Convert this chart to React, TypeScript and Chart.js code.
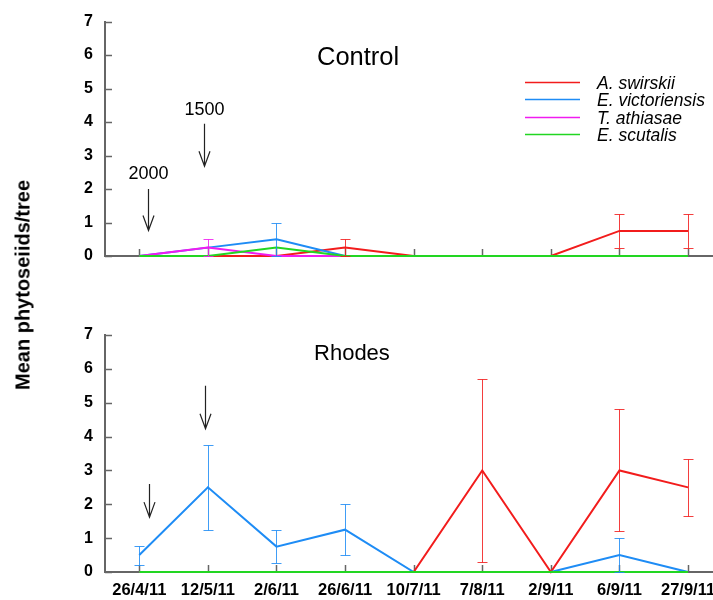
import React, { useEffect, useRef } from 'react';
import { Chart, registerables } from 'chart.js';

Chart.register(...registerables);

// ---------- data ----------
const dates = ['26/4/11', '12/5/11', '2/6/11', '26/6/11', '10/7/11', '7/8/11', '2/9/11', '6/9/11', '27/9/11'];
const yTickValues = [0, 1, 2, 3, 4, 5, 6, 7];
const seriesNames = ['A. swirskii', 'E. victoriensis', 'T. athiasae', 'E. scutalis'];

// Control panel
const controlSwirskii = [0, 0, 0, 0.25, 0, 0, 0, 0.75, 0.75];
const controlVictoriensis = [0, 0.25, 0.5, 0, 0, 0, 0, 0, 0];
const controlAthiasae = [0, 0.25, 0, 0, 0, 0, 0, 0, 0];
const controlScutalis = [0, 0, 0.25, 0, 0, 0, 0, 0, 0];
const controlSwirskiiErr = [null, null, null, 0.25, null, null, null, 0.5, 0.5];
const controlVictoriensisErr = [null, null, 0.5, null, null, null, null, null, null];
const controlAthiasaeErr = [null, 0.25, null, null, null, null, null, null, null];
const controlScutalisErr = [null, null, null, null, null, null, null, null, null];

// Rhodes panel
const rhodesSwirskii = [0, 0, 0, 0, 0, 3, 0, 3, 2.5];
const rhodesVictoriensis = [0.5, 2.5, 0.75, 1.25, 0, 0, 0, 0.5, 0];
const rhodesAthiasae = [0, 0, 0, 0, 0, 0, 0, 0, 0];
const rhodesScutalis = [0, 0, 0, 0, 0, 0, 0, 0, 0];
const rhodesSwirskiiErr = [null, null, null, null, null, 2.7, null, 1.8, 0.85];
const rhodesVictoriensisErr = [0.28, 1.25, 0.48, 0.75, null, null, null, 0.5, null];
const rhodesAthiasaeErr = [null, null, null, null, null, null, null, null, null];
const rhodesScutalisErr = [null, null, null, null, null, null, null, null, null];

// release annotations (data coordinates)
const controlReleases = [
  { label: '2000', x: 0.13, yFrom: 2.0, yTo: 0.76, labelY: 2.45 },
  { label: '1500', x: 0.95, yFrom: 3.95, yTo: 2.68, labelY: 4.37 },
];
const rhodesReleases = [
  { label: '', x: 0.145, yFrom: 2.6, yTo: 1.62, labelY: 0 },
  { label: '', x: 0.96, yFrom: 5.5, yTo: 4.23, labelY: 0 },
];

// ---------- styles ----------
const COLORS = ['#f21c1c', '#1e8cf5', '#f01cf0', '#22d622'];
const DRAW_ORDER = [3, 2, 1, 0];
const AXIS_COLOR = '#666666';
const FONT = '"Liberation Sans", Arial, Helvetica, sans-serif';
const X_MAX = 8.364;

Chart.defaults.font.family = FONT;
Chart.defaults.color = '#000';

type PanelCfg = {
  values: (number | null)[][];
  errors: (number | null)[][];
  title: string;
  titleSize: number;
  titleX: number;
  titleY: number;
  showXLabels: boolean;
  showLegend: boolean;
  releases: { label: string; x: number; yFrom: number; yTo: number; labelY: number }[];
  padTop: number;
  padBottom: number;
  xAxisHeight: number;
};

function makePanelPlugin(cfg: PanelCfg) {
  return {
    id: 'panelExtras',
    beforeDatasetsDraw(chart: any) {
      const { ctx, chartArea } = chart;
      const x = chart.scales.x;
      const y = chart.scales.y;
      ctx.save();
      ctx.strokeStyle = AXIS_COLOR;
      ctx.lineWidth = 1.5;
      yTickValues.forEach((v) => {
        const py = Math.round(y.getPixelForValue(v)) + 0.5;
        ctx.beginPath();
        ctx.moveTo(chartArea.left, py);
        ctx.lineTo(chartArea.left + 7, py);
        ctx.stroke();
      });
      dates.forEach((_, i) => {
        const px = Math.round(x.getPixelForValue(i)) + 0.5;
        ctx.beginPath();
        ctx.moveTo(px, chartArea.bottom);
        ctx.lineTo(px, chartArea.bottom - 7);
        ctx.stroke();
      });
      ctx.restore();
    },
    afterDatasetsDraw(chart: any) {
      const { ctx, chartArea } = chart;
      const x = chart.scales.x;
      const y = chart.scales.y;
      ctx.save();
      // error bars
      cfg.errors.forEach((errArr, si) => {
        errArr.forEach((e, j) => {
          const v = cfg.values[si][j];
          if (e == null || v == null) return;
          const px = Math.round(x.getPixelForValue(j)) + 0.5;
          const top = Math.round(y.getPixelForValue(v + e)) + 0.5;
          const bot = Math.round(y.getPixelForValue(Math.max(0, v - e))) + 0.5;
          ctx.strokeStyle = COLORS[si];
          ctx.globalAlpha = 0.85;
          ctx.lineWidth = 1;
          ctx.beginPath();
          ctx.moveTo(px, top);
          ctx.lineTo(px, bot);
          ctx.moveTo(px - 5, top);
          ctx.lineTo(px + 5, top);
          ctx.moveTo(px - 5, bot);
          ctx.lineTo(px + 5, bot);
          ctx.stroke();
        });
      });
      ctx.globalAlpha = 1;
      // panel title
      ctx.fillStyle = '#000';
      ctx.font = `${cfg.titleSize}px ${FONT}`;
      ctx.textAlign = 'center';
      ctx.textBaseline = 'middle';
      ctx.fillText(cfg.title, x.getPixelForValue(cfg.titleX), y.getPixelForValue(cfg.titleY));
      // release arrows
      cfg.releases.forEach((r) => {
        const px = Math.round(x.getPixelForValue(r.x)) + 0.5;
        const y0 = y.getPixelForValue(r.yFrom);
        const y1 = y.getPixelForValue(r.yTo);
        ctx.strokeStyle = '#222';
        ctx.lineWidth = 1.2;
        ctx.beginPath();
        ctx.moveTo(px, y0);
        ctx.lineTo(px, y1);
        ctx.moveTo(px - 5.5, y1 - 15);
        ctx.lineTo(px, y1);
        ctx.lineTo(px + 5.5, y1 - 15);
        ctx.stroke();
        if (r.label) {
          ctx.fillStyle = '#000';
          ctx.font = `18px ${FONT}`;
          ctx.textAlign = 'center';
          ctx.textBaseline = 'middle';
          ctx.fillText(r.label, px, y.getPixelForValue(r.labelY));
        }
      });
      // legend
      if (cfg.showLegend) {
        const lx0 = chartArea.left + 420;
        const ly0 = chartArea.top + 60;
        seriesNames.forEach((name, i) => {
          const ly = Math.round(ly0 + i * 17.5) + 0.5;
          ctx.strokeStyle = COLORS[i];
          ctx.lineWidth = 1.5;
          ctx.beginPath();
          ctx.moveTo(lx0, ly);
          ctx.lineTo(lx0 + 55, ly);
          ctx.stroke();
          ctx.fillStyle = '#000';
          ctx.font = `italic 17.5px ${FONT}`;
          ctx.textAlign = 'left';
          ctx.textBaseline = 'middle';
          ctx.fillText(name, lx0 + 72, ly + 1.5);
        });
      }
      ctx.restore();
    },
  };
}

function buildChart(canvas: HTMLCanvasElement, cfg: PanelCfg) {
  return new Chart(canvas, {
    type: 'line',
    data: {
      datasets: seriesNames.map((name, i) => ({
        label: name,
        data: cfg.values[i].map((v, j) => ({ x: j, y: v })),
        borderColor: COLORS[i],
        backgroundColor: COLORS[i],
        borderWidth: 2,
        pointRadius: 0,
        pointHoverRadius: 0,
        tension: 0,
        fill: false,
        spanGaps: false,
        order: DRAW_ORDER[i],
        clip: false as any,
      })),
    },
    options: {
      responsive: false,
      maintainAspectRatio: false,
      animation: false,
      events: [],
      layout: { padding: { top: cfg.padTop, bottom: cfg.padBottom, left: 0, right: 0 } },
      plugins: { legend: { display: false }, tooltip: { enabled: false }, title: { display: false } },
      scales: {
        x: {
          type: 'linear',
          min: -0.5,
          max: X_MAX,
          afterBuildTicks: (s: any) => {
            s.ticks = dates.map((_, i) => ({ value: i }));
          },
          ticks: {
            display: cfg.showXLabels,
            autoSkip: false,
            maxRotation: 0,
            minRotation: 0,
            padding: 9,
            color: '#000',
            font: { size: 16.5, weight: 'bold' },
            callback: (_v: any, idx: number) => dates[idx],
          },
          grid: { drawOnChartArea: false, drawTicks: false },
          border: { color: AXIS_COLOR, width: 2 },
          afterFit: (s: any) => {
            s.paddingLeft = 0;
            s.paddingRight = 0;
            s.height = cfg.xAxisHeight;
          },
        },
        y: {
          type: 'linear',
          min: 0,
          max: 7,
          afterBuildTicks: (s: any) => {
            s.ticks = yTickValues.map((v) => ({ value: v }));
          },
          ticks: { padding: 12, color: '#000', font: { size: 16, weight: 'bold' } },
          grid: { drawOnChartArea: false, drawTicks: false },
          border: { color: AXIS_COLOR, width: 2 },
          afterFit: (s: any) => {
            s.width = 105;
          },
        },
      },
    } as any,
    plugins: [makePanelPlugin(cfg)],
  });
}

export default function App() {
  const topRef = useRef<HTMLCanvasElement>(null);
  const botRef = useRef<HTMLCanvasElement>(null);

  useEffect(() => {
    const top = buildChart(topRef.current!, {
      values: [controlSwirskii, controlVictoriensis, controlAthiasae, controlScutalis],
      errors: [controlSwirskiiErr, controlVictoriensisErr, controlAthiasaeErr, controlScutalisErr],
      title: 'Control',
      titleSize: 25.5,
      titleX: 3.19,
      titleY: 5.92,
      showXLabels: false,
      showLegend: true,
      releases: controlReleases,
      padTop: 18,
      padBottom: 24,
      xAxisHeight: 0,
    });
    const bot = buildChart(botRef.current!, {
      values: [rhodesSwirskii, rhodesVictoriensis, rhodesAthiasae, rhodesScutalis],
      errors: [rhodesSwirskiiErr, rhodesVictoriensisErr, rhodesAthiasaeErr, rhodesScutalisErr],
      title: 'Rhodes',
      titleSize: 22,
      titleX: 3.1,
      titleY: 6.45,
      showXLabels: true,
      showLegend: false,
      releases: rhodesReleases,
      padTop: 55,
      padBottom: 0,
      xAxisHeight: 28,
    });
    return () => {
      top.destroy();
      bot.destroy();
    };
  }, []);

  return (
    <div style={{ position: 'absolute', left: 0, top: 0, width: 713, height: 600, background: '#fff', overflow: 'hidden' }}>
      <canvas ref={topRef} width={713} height={280} style={{ position: 'absolute', left: 0, top: 0, display: 'block' }} />
      <canvas ref={botRef} width={713} height={320} style={{ position: 'absolute', left: 0, top: 280, display: 'block' }} />
      <div
        style={{
          position: 'absolute',
          left: 23,
          top: 285,
          transform: 'translate(-50%, -50%) rotate(-90deg)',
          whiteSpace: 'nowrap',
          fontFamily: FONT,
          fontWeight: 'bold',
          fontSize: 20,
          color: '#000',
        }}
      >
        Mean phytoseiids/tree
      </div>
    </div>
  );
}
